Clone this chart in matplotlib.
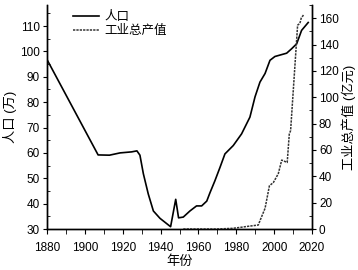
import matplotlib
matplotlib.use("Agg")
import matplotlib.pyplot as plt
from matplotlib.ticker import MultipleLocator

plt.rcParams['font.family'] = ['Liberation Sans', 'Noto Sans CJK SC', 'DejaVu Sans']

# --- Données ---
annees_pop = [1880, 1907, 1913, 1918.6, 1924.7, 1927.5, 1929.1, 1930.9, 1933.5, 1936.2,
              1939.7, 1945.3, 1948, 1949.5, 1952, 1955.5, 1959, 1961.7, 1964.4, 1966.1,
              1968.7, 1971.4, 1974, 1978.4, 1982.8, 1987.2, 1989.9, 1992.5, 1995.2,
              1997.8, 2000.4, 2006.6, 2009.3, 2011.9, 2014.5, 2018]
population = [96.8, 59.2, 59.1, 60.0, 60.4, 60.8, 59.1, 51.8, 43.8, 37.1,
              34.2, 30.9, 41.7, 34.4, 34.7, 37.1, 39.1, 39.1, 41.0, 44.3,
              49.0, 54.3, 59.6, 62.9, 67.5, 74.1, 82.1, 87.9, 91.3,
              96.5, 98.0, 99.3, 101.1, 103.0, 108.3, 111.4]

annees_ind = [1952, 1970, 1978, 1982, 1986, 1991.6, 1993, 1995.2, 1997.5, 1999.6,
              2002.2, 2004, 2006.9, 2008, 2008.7, 2012.4, 2013.6, 2014.3, 2015.8]
industrie = [0, 0, 0.5, 1.2, 2, 3, 8, 15.7, 32.8, 35.3,
             42, 52.3, 50.5, 72, 74.7, 154.7, 156, 160, 163]

# --- Graphique ---
fig = plt.figure(figsize=(3.58, 2.70), dpi=100)
ax = fig.add_axes([47/358, 41/270, 265/358, 224/270])
ax2 = ax.twinx()

l1, = ax.plot(annees_pop, population, color="black", lw=1.2, label="人口")
l2, = ax2.plot(annees_ind, industrie, color="#333333", lw=1.1,
               linestyle=(0, (1.5, 0.7)), label="工业总产值")

ax.set_xlim(1880, 2020)
ax.set_ylim(30, 118.3)
ax2.set_ylim(0, 170)

ax.xaxis.set_major_locator(MultipleLocator(20))
ax.xaxis.set_minor_locator(MultipleLocator(10))
ax.yaxis.set_major_locator(MultipleLocator(10))
ax.yaxis.set_minor_locator(MultipleLocator(5))
ax2.yaxis.set_major_locator(MultipleLocator(20))
ax2.yaxis.set_minor_locator(MultipleLocator(10))

for a in (ax, ax2):
    a.spines['top'].set_visible(False)
    for s in a.spines.values():
        s.set_linewidth(1.0)
ax.tick_params(axis='x', which='both', direction='out', length=3.5, labelsize=8.5, pad=6)
ax.tick_params(axis='y', which='major', direction='out', length=3, labelsize=8.5, pad=2)
ax.tick_params(axis='y', which='minor', direction='in', length=2)
ax2.tick_params(axis='y', which='major', direction='out', length=3, labelsize=8.5, pad=2)
ax2.tick_params(axis='y', which='minor', direction='in', length=2)

ax.set_xlabel("年份", fontsize=9.5, labelpad=1)
ax.set_ylabel("人口 (万)", fontsize=9.5, labelpad=2)
ax2.set_ylabel("工业总产值 (亿元)", fontsize=9.5, labelpad=2)

ax.legend(handles=[l1, l2], loc="upper left", bbox_to_anchor=(0.08, 0.995),
          frameon=False, fontsize=9, handlelength=2.1, handletextpad=0.4,
          labelspacing=0.15, borderaxespad=0)

fig.savefig("out.png", dpi=100)
